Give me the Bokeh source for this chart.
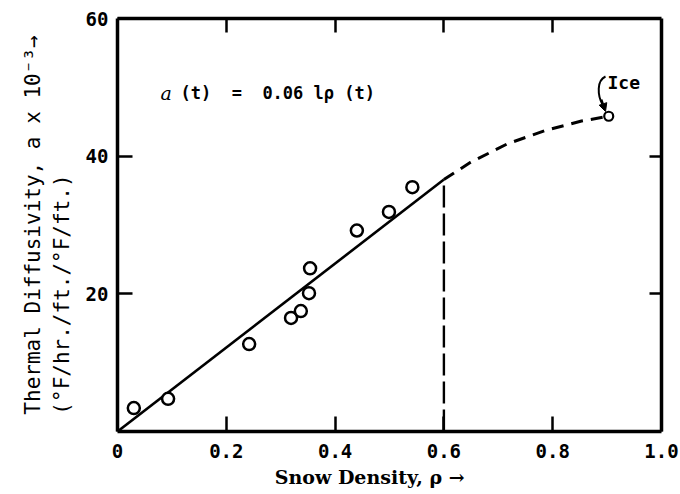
from bokeh.plotting import figure
from bokeh.models import Range1d, LinearAxis, FixedTicker, Label, Arrow, NormalHead
from bokeh.embed import file_html
from bokeh.resources import INLINE

# ---------------- data ----------------
rho_points = [0.030, 0.093, 0.242, 0.319, 0.337, 0.352, 0.354, 0.440, 0.499, 0.542]
alpha_points = [3.4, 4.75, 12.7, 16.5, 17.5, 20.1, 23.7, 29.2, 31.9, 35.5]
fit_coef = 61.0          # alpha = 0.061 rho  (x 10^-3 -> 61 rho)
fit_end = 0.6
ice_rho = [0.903]
ice_alpha = [45.8]
curve_rho = [0.6, 0.649, 0.717, 0.785, 0.853, 0.903]
curve_alpha = [36.6, 39.1, 41.8, 43.7, 45.1, 45.8]

x_ticks = [0, 0.2, 0.4, 0.6, 0.8, 1.0]
x_tick_labels = ["0", "0.2", "0.4", "0.6", "0.8", "1.0"]
y_ticks = [20, 40, 60]
y_tick_labels = ["20", "40", "60"]
inner_x_ticks = [0.2, 0.4, 0.6, 0.8]
inner_y_ticks = [20, 40]

NBSP = "\u00a0"
x_title = "Snow Density, ρ →"
y_title_1 = "Thermal Diffusivity, a x 10⁻³→"
y_title_2 = "(°F/hr./ft./°F/ft.)"
equation_symbol = "a"
equation_text = "(t)" + NBSP * 2 + "=" + NBSP * 2 + "0.06 lρ (t)"
ice_text = "Ice"

# ---------------- geometry helpers (frame is 544 x 413 px) ----------------
FL, FB, FW, FH = 117, 431, 544, 413
def dx(px):
    return (px - FL) / FW
def dy(py):
    return (FB - py) / FH * 60.0

MONO = "DejaVu Sans Mono"
SERIF = "DejaVu Serif"

p = figure(width=680, height=494, x_range=Range1d(0, 1), y_range=Range1d(0, 60),
           output_backend="svg", toolbar_location=None,
           min_border_left=117, min_border_right=19, min_border_top=18, min_border_bottom=63)
p.xgrid.visible = False
p.ygrid.visible = False
p.outline_line_color = None
p.background_fill_color = "white"
p.border_fill_color = "white"

def style_axis(ax, tick_len):
    ax.axis_line_width = 3.5
    ax.axis_line_color = "black"
    ax.major_tick_in = tick_len
    ax.major_tick_out = 0
    ax.major_tick_line_width = 2.5
    ax.major_tick_line_color = "black"
    ax.minor_tick_line_color = None

xa = p.xaxis[0]
xa.ticker = FixedTicker(ticks=x_ticks)
xa.major_label_overrides = dict(zip(x_ticks, x_tick_labels))
xa.major_label_text_font = MONO
xa.major_label_text_font_style = "bold"
xa.major_label_text_font_size = "19px"
xa.major_label_text_color = "black"
xa.major_label_standoff = 12
xa.axis_label = x_title + NBSP * 6
xa.axis_label_text_font = SERIF
xa.axis_label_text_font_style = "bold"
xa.axis_label_text_font_size = "19px"
xa.axis_label_text_color = "black"
xa.axis_label_standoff = 5
style_axis(xa, 15)

ya = p.yaxis[0]
ya.ticker = FixedTicker(ticks=y_ticks)
ya.major_label_overrides = dict(zip(y_ticks, y_tick_labels))
ya.major_label_text_font = MONO
ya.major_label_text_font_style = "bold"
ya.major_label_text_font_size = "19px"
ya.major_label_text_color = "black"
ya.major_label_standoff = 9
pad = NBSP * (len(y_title_1) - len(y_title_2))
ya.axis_label = y_title_1 + "\n" + y_title_2 + pad
ya.axis_label_text_font = MONO
ya.axis_label_text_font_style = "normal"
ya.axis_label_text_font_size = "21px"
ya.axis_label_text_color = "black"
ya.axis_label_standoff = 9
style_axis(ya, 15)

top = LinearAxis(ticker=FixedTicker(ticks=inner_x_ticks),
                 major_label_overrides={t: "" for t in inner_x_ticks},
                 major_label_standoff=0)
style_axis(top, 14)
p.add_layout(top, "above")
right = LinearAxis(ticker=FixedTicker(ticks=inner_y_ticks),
                   major_label_overrides={t: "" for t in inner_y_ticks},
                   major_label_standoff=0)
style_axis(right, 12)
p.add_layout(right, "right")

# fit line, vertical dashed line, dashed extension
p.line([0, fit_end], [0, fit_coef * fit_end], line_color="black", line_width=2.6)
p.line([fit_end, fit_end], [0, fit_coef * fit_end], line_color="black", line_width=2.4,
       line_dash="22 6")
p.line(curve_rho, curve_alpha, line_color="black", line_width=3, line_dash="12 8")

p.scatter(rho_points, alpha_points, marker="circle", size=12, fill_color="white",
          line_color="black", line_width=2.5)
p.scatter(ice_rho, ice_alpha, marker="circle", size=9, fill_color="white",
          line_color="black", line_width=2.2)

# Ice annotation
p.bezier(x0=dx(605), y0=dy(76), x1=dx(602), y1=dy(104),
         cx0=dx(596), cy0=dy(80), cx1=dx(597), cy1=dy(95),
         line_color="black", line_width=2)
p.add_layout(Arrow(end=NormalHead(size=8, fill_color="black", line_color="black"),
                   x_start=dx(601), y_start=dy(99), x_end=dx(605), y_end=dy(111),
                   line_color="black", line_width=2))
p.add_layout(Label(x=dx(607), y=dy(82), text=ice_text, text_font=MONO, text_font_style="bold",
                   text_font_size="18px", text_baseline="middle", text_align="left",
                   text_color="black"))

# equation
p.add_layout(Label(x=dx(160), y=dy(92), text=equation_symbol, text_font=SERIF,
                   text_font_style="italic", text_font_size="19px",
                   text_baseline="middle", text_align="left", text_color="black"))
p.add_layout(Label(x=dx(180), y=dy(92), text=equation_text, text_font=MONO,
                   text_font_style="bold", text_font_size="17px",
                   text_baseline="middle", text_align="left", text_color="black"))

open("out.html", "w").write(file_html(p, INLINE))
